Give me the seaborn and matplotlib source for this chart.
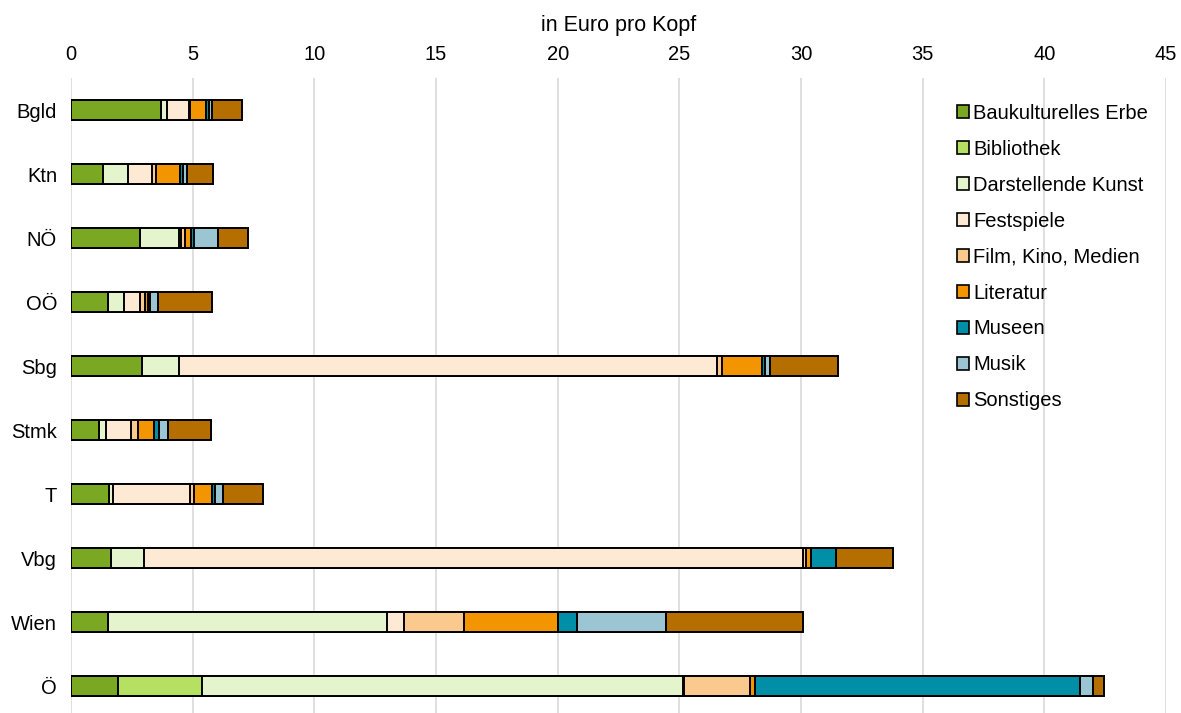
import numpy as np
import pandas as pd
import matplotlib
matplotlib.use("Agg")
import matplotlib.pyplot as plt
import seaborn as sns
from matplotlib.patches import Patch

regions = ["Bgld", "Ktn", "NÖ", "OÖ", "Sbg", "Stmk", "T", "Vbg", "Wien", "Ö"]
categories = ["Baukulturelles Erbe", "Bibliothek", "Darstellende Kunst", "Festspiele",
              "Film, Kino, Medien", "Literatur", "Museen", "Musik", "Sonstiges"]

baukultur   = [3.71, 1.32, 2.82, 1.51, 2.93, 1.16, 1.56, 1.65, 1.54, 1.94]
bibliothek  = [0.00, 0.00, 0.00, 0.00, 0.00, 0.00, 0.00, 0.00, 0.00, 3.45]
darstellend = [0.23, 1.04, 1.60, 0.65, 1.49, 0.29, 0.17, 1.34, 11.44, 19.77]
festspiele  = [0.90, 0.95, 0.12, 0.66, 22.12, 1.00, 3.14, 27.10, 0.69, 0.05]
film        = [0.05, 0.20, 0.15, 0.24, 0.20, 0.31, 0.18, 0.12, 2.49, 2.70]
literatur   = [0.64, 0.98, 0.25, 0.11, 1.65, 0.64, 0.74, 0.22, 3.85, 0.19]
museen      = [0.16, 0.13, 0.12, 0.08, 0.14, 0.21, 0.12, 0.99, 0.80, 13.37]
musik       = [0.10, 0.14, 1.00, 0.32, 0.18, 0.38, 0.34, 0.00, 3.66, 0.51]
sonstiges   = [1.23, 1.07, 1.21, 2.23, 2.83, 1.77, 1.63, 2.35, 5.61, 0.48]

colors = ["#7BA823", "#B5E061", "#E4F4CC", "#FDE9D4", "#FAC98E",
          "#F29500", "#008FA6", "#9BC5D3", "#B46F00"]

series = [baukultur, bibliothek, darstellend, festspiele, film,
          literatur, museen, musik, sonstiges]
df = pd.DataFrame(dict(zip(categories, series)), index=regions)
cum = df.cumsum(axis=1)

sns.set_theme(style="white")
plt.rcParams["font.family"] = ["Liberation Sans", "DejaVu Sans"]
plt.rcParams["text.color"] = "black"
plt.rcParams["xtick.color"] = "black"
plt.rcParams["ytick.color"] = "black"
plt.rcParams["axes.labelcolor"] = "black"

fig = plt.figure(figsize=(11.81, 7.13), dpi=100)
# axes spans y = 78 .. 718 px (slightly past the bottom edge)
ax = fig.add_axes([71 / 1181, -5 / 713, (1166 - 71) / 1181, 640 / 713])

# stacked bars: draw cumulative totals from the outermost segment inwards
for cat, col in reversed(list(zip(categories, colors))):
    sns.barplot(x=cum[cat].values, y=regions, orient="h", color=col,
                width=0.31, edgecolor="black", linewidth=1.4,
                saturation=1, ax=ax, zorder=3)

ax.set_xlim(0, 45)
ax.set_ylim(9.5, -0.5)
ax.set_xticks(np.arange(0, 46, 5))
ax.xaxis.tick_top()
ax.xaxis.set_label_position("top")
ax.set_xlabel("in Euro pro Kopf", fontsize=15.5, labelpad=10)
ax.set_ylabel("")
ax.tick_params(axis="x", labelsize=14.5, length=0, pad=10)
ax.tick_params(axis="y", labelsize=14.5, length=0, pad=10)
ax.grid(axis="x", color="#D9D9D9", linewidth=1.2, zorder=0)
ax.grid(axis="y", visible=False)
for s in ax.spines.values():
    s.set_visible(False)

handles = [Patch(facecolor=c, edgecolor="black", linewidth=1.2) for c in colors]
leg = ax.legend(handles, categories, loc="upper left", bbox_to_anchor=(0.802, 0.972),
                frameon=False, fontsize=14.5, handlelength=0.6, handleheight=0.6,
                handletextpad=0.2, labelspacing=0.84, borderaxespad=0)

fig.savefig("out.png", dpi=100)
